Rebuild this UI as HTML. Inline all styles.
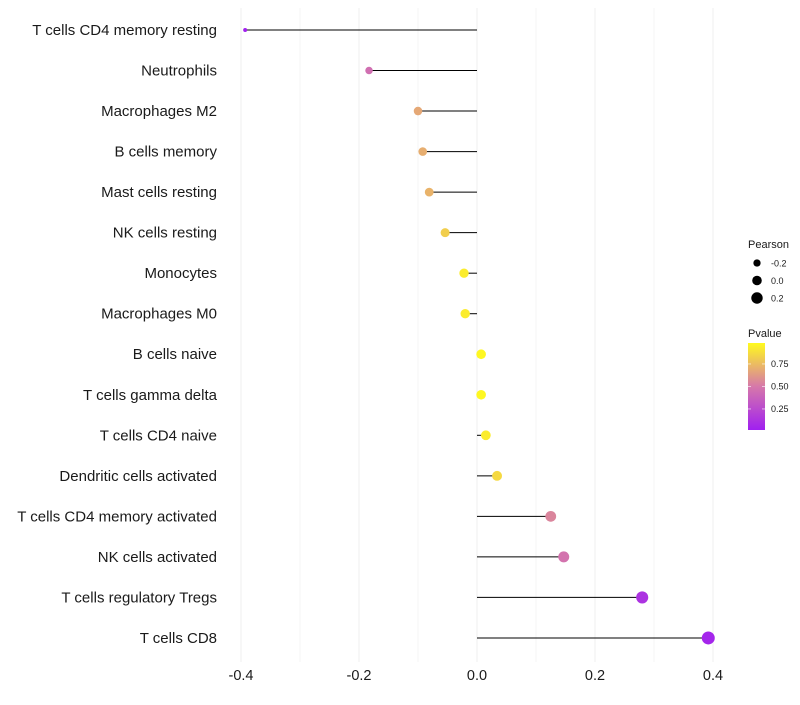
<!DOCTYPE html>
<html><head><meta charset="utf-8">
<style>
body{margin:0;background:#fff;font-family:"Liberation Sans",sans-serif;}
</style></head>
<body>
<svg id="chart" width="800" height="700" xmlns="http://www.w3.org/2000/svg"></svg>
<script>
const categories=["T cells CD4 memory resting","Neutrophils","Macrophages M2","B cells memory ","Mast cells resting","NK cells resting","Monocytes","Macrophages M0","B cells naive","T cells gamma delta","T cells CD4 naive","Dendritic cells activated","T cells CD4 memory activated","NK cells activated","T cells regulatory  Tregs ","T cells CD8"];
const pearson=[-0.393,-0.183,-0.1,-0.092,-0.081,-0.054,-0.022,-0.020,0.007,0.007,0.015,0.034,0.125,0.147,0.28,0.392];
const pvalue=[0.03,0.45,0.68,0.7,0.72,0.82,0.93,0.93,0.97,0.97,0.93,0.86,0.55,0.47,0.12,0.05];
const xTicks=[-0.4,-0.2,0.0,0.2,0.4];
const xTickLabels=["-0.4","-0.2","0.0","0.2","0.4"];
const sizeLegend=[-0.2,0.0,0.2];
const sizeLegendLabels=["-0.2","0.0","0.2"];
const colorTicks=[0.75,0.5,0.25];
const colorTickLabels=["0.75","0.50","0.25"];

const NS="http://www.w3.org/2000/svg";
const svg=document.getElementById('chart');
function el(t,a,p){const e=document.createElementNS(NS,t);for(const k in a)e.setAttribute(k,a[k]);(p||svg).appendChild(e);return e;}
const x=v=>477+v*590;
const y=i=>30+i*40.53;
const r=v=>Math.sqrt(Math.max(2,23+48.7*v));
function lerp(a,b,t){return a.map((c,i)=>Math.round(c+(b[i]-c)*t));}
function color(p){const s=[[0,[160,32,240]],[0.5,[214,120,170]],[1,[255,250,30]]];
 let t=(p-0.017)/(0.983-0.017);t=Math.max(0,Math.min(1,t));
 const c=t<0.5?lerp(s[0][1],s[1][1],t/0.5):lerp(s[1][1],s[2][1],(t-0.5)/0.5);return `rgb(${c})`;}

for(let v=-0.4;v<=0.401;v+=0.1){const g=el('line',{x1:x(v),x2:x(v),y1:8,y2:662,stroke:'#efefef','stroke-width':Math.abs(Math.round(v*10))%2===0?1:0.6});
 }
categories.forEach((c,i)=>{
 const t=el('text',{x:217,y:y(i)+5,'text-anchor':'end','font-size':15,fill:'#1a1a1a'});t.textContent=c;
 
 const l=el('line',{x1:x(0),x2:x(pearson[i]),y1:y(i),y2:y(i),stroke:'#000','stroke-width':1});
 
 const d=el('circle',{cx:x(pearson[i]),cy:y(i),r:r(pearson[i]),fill:color(pvalue[i])});
 
});
xTicks.forEach((v,i)=>{const t=el('text',{x:x(v),y:680,'text-anchor':'middle','font-size':14.5,fill:'#1a1a1a'});t.textContent=xTickLabels[i];
 });

let t=el('text',{x:748,y:248,'font-size':11,fill:'#1a1a1a'});t.textContent='Pearson';

sizeLegend.forEach((v,i)=>{const cy=263+i*17.5;
 const c=el('circle',{cx:757,cy:cy,r:r(v),fill:'#000'});
 const tt=el('text',{x:771,y:cy+3.5,'font-size':9,fill:'#1a1a1a'});tt.textContent=sizeLegendLabels[i];
 });

t=el('text',{x:748,y:337,'font-size':11,fill:'#1a1a1a'});t.textContent='Pvalue';

const defs=el('defs',{});const lg=el('linearGradient',{id:'pg',x1:0,y1:1,x2:0,y2:0},defs);
el('stop',{offset:'0','stop-color':'rgb(160,32,240)'},lg);el('stop',{offset:'0.5','stop-color':'rgb(214,120,170)'},lg);el('stop',{offset:'1','stop-color':'rgb(255,250,30)'},lg);
const bar=el('rect',{x:748,y:343,width:17,height:87,fill:'url(#pg)'});
const cy=v=>343+(0.983-v)*90;
colorTicks.forEach((v,i)=>{
 el('line',{x1:748,x2:751,y1:cy(v),y2:cy(v),stroke:'#fff','stroke-width':0.6});el('line',{x1:762,x2:765,y1:cy(v),y2:cy(v),stroke:'#fff','stroke-width':0.6});
 const tt=el('text',{x:771,y:cy(v)+3,'font-size':9,fill:'#1a1a1a'});tt.textContent=colorTickLabels[i];
 });
</script>
</body></html>
